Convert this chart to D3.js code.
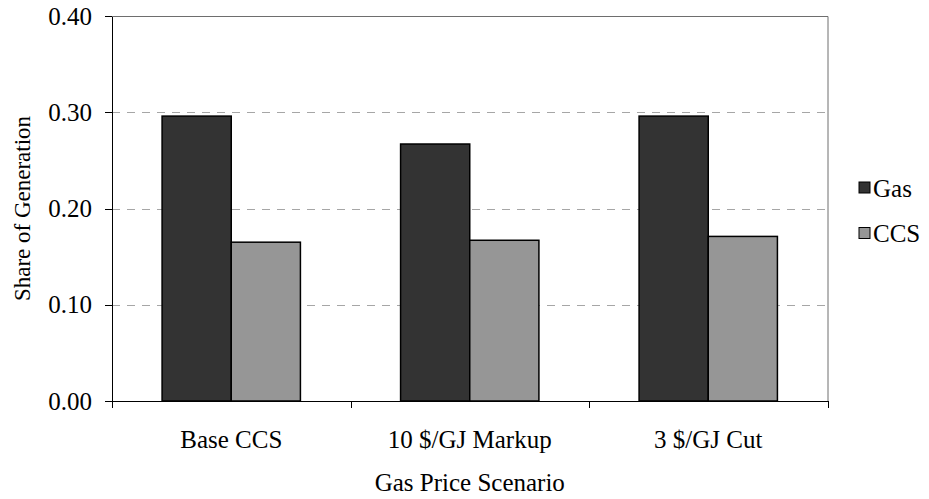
<!DOCTYPE html>
<meta charset="utf-8">
<style>
	body { margin: 0; background: #fff; }
	svg text { font-family: "Liberation Serif", "Times New Roman", serif; fill: #000; }
	.axis path, .axis line { stroke: #000; shape-rendering: crispEdges; }
	.grid line { stroke: #a6a6a6; stroke-dasharray: 8,7; shape-rendering: crispEdges; }
</style>
<svg></svg>
<script src="https://cdn.jsdelivr.net/npm/d3@7"></script>
<script>
	var categories = ["Base CCS", "10 $/GJ Markup", "3 $/GJ Cut"];
	var seriesNames = ["Gas", "CCS"];
	var gasValues = [0.296, 0.267, 0.296];
	var ccsValues = [0.165, 0.167, 0.171];
	var yTicks = [0, 0.1, 0.2, 0.3, 0.4];
	var colors = { Gas: "#333333", CCS: "#969696" };

	var W = 929, H = 499;
	var plot = { left: 112, right: 827.5, top: 16, bottom: 401 };
	var fontSize = "25px";

	var svg = d3.select("svg").attr("width", W).attr("height", H);

	var rows = categories.map(function (c, i) {
		return { cat: c, Gas: gasValues[i], CCS: ccsValues[i] };
	});

	var x = d3.scaleBand().domain(categories)
		.range([plot.left, plot.right])
		.paddingInner(0.42).paddingOuter(0.21);
	var xs = d3.scaleBand().domain(seriesNames).range([0, x.bandwidth()]);
	var xEdge = d3.scaleLinear().domain([0, categories.length]).range([plot.left, plot.right]);
	var y = d3.scaleLinear().domain([0, 0.4]).range([plot.bottom, plot.top]);

	// gridlines
	svg.append("g").attr("class", "grid")
		.selectAll("line").data(yTicks.filter(function (d) { return d > 0 && d < 0.4; }))
		.enter().append("line")
		.attr("x1", plot.left).attr("x2", plot.right)
		.attr("y1", function (d) { return Math.round(y(d)) + 0.5; })
		.attr("y2", function (d) { return Math.round(y(d)) + 0.5; });

	// plot border top/right
	svg.append("path")
		.attr("d", "M" + plot.left + "," + (plot.top + 0.5) + "H" + (plot.right + 0.5) + "V" + plot.bottom)
		.attr("fill", "none").attr("stroke", "#6e6e6e").attr("stroke-width", 1);

	// bars
	var groups = svg.append("g").selectAll("g").data(rows).enter().append("g")
		.attr("transform", function (d) { return "translate(" + x(d.cat) + ",0)"; });
	groups.selectAll("rect")
		.data(function (d) { return seriesNames.map(function (s) { return { key: s, value: d[s] }; }); })
		.enter().append("rect")
		.attr("x", function (d) { return xs(d.key); })
		.attr("y", function (d) { return y(d.value); })
		.attr("width", xs.bandwidth())
		.attr("height", function (d) { return y(0) - y(d.value); })
		.attr("fill", function (d) { return colors[d.key]; })
		.attr("stroke", "#000").attr("stroke-width", 1.5);

	// y axis
	var yAxis = d3.axisLeft(y).tickValues(yTicks).tickFormat(d3.format(".2f"))
		.tickSize(7).tickSizeOuter(0).tickPadding(13);
	svg.append("g").attr("class", "axis")
		.attr("transform", "translate(" + plot.left + ",0)")
		.call(yAxis)
		.selectAll("text").style("font-size", fontSize);

	// x axis: labels at centres, ticks at category edges
	svg.append("g").attr("class", "axis")
		.attr("transform", "translate(0," + plot.bottom + ")")
		.call(d3.axisBottom(x).tickSize(0).tickSizeOuter(0).tickPadding(29))
		.selectAll("text").style("font-size", fontSize);
	svg.append("g").attr("class", "axis")
		.attr("transform", "translate(0," + plot.bottom + ")")
		.call(d3.axisBottom(xEdge).ticks(categories.length).tickSize(7).tickSizeOuter(0).tickFormat(""))
		.select(".domain").remove();

	// axis titles
	svg.append("text").text("Gas Price Scenario")
		.attr("x", (plot.left + plot.right) / 2).attr("y", 491)
		.attr("text-anchor", "middle").style("font-size", fontSize);
	svg.append("text").text("Share of Generation")
		.attr("transform", "translate(30," + (plot.top + plot.bottom) / 2 + ") rotate(-90)")
		.attr("text-anchor", "middle").style("font-size", "23px");

	// legend
	var legend = svg.append("g").attr("transform", "translate(859,182)");
	var li = legend.selectAll("g").data(seriesNames).enter().append("g")
		.attr("transform", function (d, i) { return "translate(0," + (i * 45.5) + ")"; });
	li.append("rect").attr("width", 11).attr("height", 11)
		.attr("fill", function (d) { return colors[d]; })
		.attr("stroke", "#000").attr("stroke-width", 1);
	li.append("text").text(function (d) { return d; })
		.attr("x", 14).attr("y", 14.5).style("font-size", fontSize);
</script>
